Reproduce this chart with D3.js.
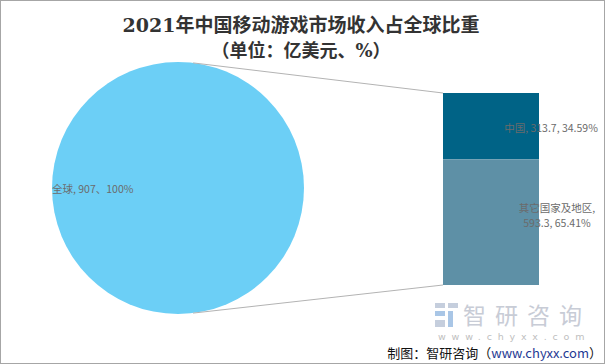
<!DOCTYPE html>
<html><head><meta charset="utf-8">
<script src="https://cdn.jsdelivr.net/npm/d3@7/dist/d3.min.js"></script>
<style>body{margin:0;background:#fff}svg{display:block}</style>
</head><body><svg id="c" width="605" height="364"></svg>
<script>
const pieCats = ["全球"];
const pieVals = [907];
const pieLabels = ["全球, 907、100%"];
const barCats = ["中国", "其它国家及地区"];
const barVals = [313.7, 593.3];
const barLabels = [["中国, 313.7, 34.59%"], ["其它国家及地区,", "593.3, 65.41%"]];
const title1 = "2021年中国移动游戏市场收入占全球比重";
const title2 = "（单位：亿美元、%）";

const svg = d3.select("#c");
const W = 605, H = 364;
const CJK = "'Noto Sans CJK SC','Microsoft YaHei',sans-serif";

svg.append("rect").attr("x",0.5).attr("y",0.5).attr("width",W-1).attr("height",H-1)
  .attr("fill","#fff").attr("stroke","#a6a6a6");

// titles
svg.append("text").attr("x",301).attr("y",32).attr("text-anchor","middle")
  .attr("font-family","'DejaVu Serif','Noto Sans CJK SC',serif").attr("font-weight","bold")
  .attr("font-size",19).attr("fill","#333").text(title1);
svg.append("text").attr("x",301).attr("y",57).attr("text-anchor","middle")
  .attr("font-family","'DejaVu Serif','Noto Sans CJK SC',serif").attr("font-weight","bold")
  .attr("font-size",18).attr("fill","#333").text(title2);

// pie
const cx = 178, cy = 188, R = 126;
const pie = d3.pie().sort(null)(pieVals);
const arc = d3.arc().innerRadius(0).outerRadius(R);
const pg = svg.append("g").attr("transform",`translate(${cx},${cy})`);
pg.selectAll("path").data(pie).join("path").attr("d",arc).attr("fill","#6ccff6");

// bar
const bx = 443, bw = 96, bTop = 93, bBot = 285;
const y = d3.scaleLinear().domain([0, d3.sum(barVals)]).range([bTop, bBot]);
const stack = [];
let acc = 0;
barVals.forEach((v,i)=>{ stack.push({cat:barCats[i], v, y0:acc, y1:acc+v, lab:barLabels[i]}); acc+=v; });
const barColors = ["#006386", "#5e90a6"];
svg.selectAll("rect.bar").data(stack).join("rect").attr("class","bar")
  .attr("x",bx).attr("width",bw)
  .attr("y",d=>y(d.y0)).attr("height",d=>y(d.y1)-y(d.y0))
  .attr("fill",(d,i)=>barColors[i]);

// connector lines
const ang = 0.12;
const p1 = [cx + R*Math.sin(ang), cy - R*Math.cos(ang)];
const p2 = [cx + R*Math.sin(ang), cy + R*Math.cos(ang)];
svg.append("line").attr("x1",p1[0]).attr("y1",p1[1]).attr("x2",bx).attr("y2",y(0))
  .attr("stroke","#b3b3b3").attr("stroke-width",1);
svg.append("line").attr("x1",p2[0]).attr("y1",p2[1]).attr("x2",bx).attr("y2",y(acc))
  .attr("stroke","#b3b3b3").attr("stroke-width",1);

// labels
svg.append("text").attr("x",52).attr("y",193).attr("font-family",CJK).attr("font-size",10.5)
  .attr("fill","#6b6b6b").text(pieLabels[0]);
const labelPos = [[551, 132], [557, 212]];
stack.forEach((d,i)=>{
  const t = svg.append("text").attr("text-anchor","middle").attr("font-family",CJK)
    .attr("font-size",10.5).attr("fill","#6b6b6b");
  d.lab.forEach((s,j)=>t.append("tspan").attr("x",labelPos[i][0]).attr("y",labelPos[i][1]+j*15).text(s));
});

// watermark
const wm = svg.append("g");
wm.append("rect").attr("x",435).attr("y",303).attr("width",10).attr("height",5).attr("fill","#c5cedd");
wm.append("rect").attr("x",448).attr("y",303).attr("width",10).attr("height",5).attr("fill","#c5cedd");
wm.append("rect").attr("x",435).attr("y",311).attr("width",10).attr("height",5).attr("fill","#a9c6e6");
wm.append("rect").attr("x",448).attr("y",311).attr("width",5).attr("height",16).attr("fill","#a9c6e6");
wm.append("rect").attr("x",435).attr("y",320).attr("width",10).attr("height",7).attr("fill","#c5cedd");
wm.append("text").attr("x",463).attr("y",324).attr("font-family",CJK).attr("font-size",23)
  .attr("fill","#c8ccd6").attr("letter-spacing",9).text("智研咨询");
wm.append("text").attr("x",438).attr("y",340).attr("font-family","'DejaVu Sans',sans-serif").attr("font-size",9.5)
  .attr("fill","#c0c0c0").attr("letter-spacing",5.8).text("www.chyxx.com");

// footer
const ft = svg.append("text").attr("x",602).attr("y",358).attr("text-anchor","end")
  .attr("font-family",CJK).attr("font-size",13).attr("fill","#111");
ft.append("tspan").text("制图：智研咨询（");
ft.append("tspan").attr("fill","#1f3a93").text("www.chyxx.com");
ft.append("tspan").text("）");
</script></body></html>
